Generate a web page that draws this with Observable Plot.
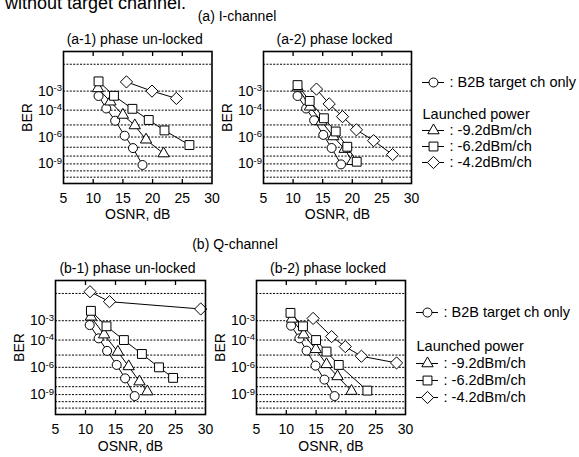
<!DOCTYPE html>
<html><head><meta charset="utf-8">
<script src="https://cdn.jsdelivr.net/npm/d3@7"></script>
<script src="https://cdn.jsdelivr.net/npm/@observablehq/plot@0.6"></script>
<style>
body{margin:0;background:#fff;font-family:"Liberation Sans",Arial,sans-serif;}
#root{position:relative;width:579px;height:457px;overflow:hidden;background:#fff;}
.box{position:absolute;}
.t{position:absolute;font-size:14px;line-height:16px;white-space:nowrap;color:#000;text-align:center;}
</style></head><body><div id="root"></div>
<script>
// ---- axis / tick definitions ----
const xTickLabels = [5, 10, 15, 20, 25, 30];
const xInnerTicks = [10, 15, 20, 25];
const yTickExps = [3, 4, 6, 9];              // labelled BER = 10^-n
const yGridExps = [2, 3, 4, 5, 6, 7, 8, 9, 10, 11];
const yDomainExp = [1.65, 12.1];

// ---- data: [OSNR (dB), -log10(BER)] ----
// (a-1) I-channel, phase un-locked
const a1_b2b = [[10.9,3.23],[12.2,3.9],[13.7,4.69],[15.3,5.88],[16.7,7.09],[18.3,9.15]];
const a1_p92 = [[10.8,2.88],[12.9,3.52],[15.0,4.3],[17.0,5.04],[18.9,6.25],[21.85,7.7]];
const a1_p62 = [[10.9,2.59],[13.5,3.22],[16.6,3.92],[19.35,4.64],[22.0,5.43],[26.2,6.77]];
const a1_p42 = [[15.6,2.61],[19.9,3.0],[24.0,3.35]];
// (a-2) I-channel, phase locked
const a2_b2b = [[10.75,3.23],[12.2,3.9],[13.55,4.66],[15.1,5.81],[16.5,7.08],[18.1,9.07]];
const a2_p92 = [[10.8,2.85],[12.85,3.8],[14.8,4.75],[16.8,5.95],[18.7,7.2],[20.0,8.65]];
const a2_p62 = [[10.75,2.74],[12.8,3.48],[15.2,4.52],[17.2,5.52],[19.15,6.95],[20.75,8.71]];
const a2_p42 = [[13.95,2.91],[16.1,3.64],[18.35,4.41],[20.7,5.38],[23.6,6.34],[26.8,7.82]];
// (b-1) Q-channel, phase un-locked
const b1_b2b = [[10.7,3.2],[12.2,3.9],[13.6,4.7],[15.2,5.79],[16.6,7.07],[18.2,9.2]];
const b1_p92 = [[10.9,2.83],[13.1,3.69],[15.4,4.77],[17.2,5.92],[19.0,7.42],[20.3,8.6]];
const b1_p62 = [[10.9,2.59],[13.5,3.26],[16.4,4.0],[19.4,4.92],[22.25,6.0],[24.6,7.02]];
const b1_p42 = [[10.75,1.95],[14.0,2.26],[29.2,2.52]];
// (b-2) Q-channel, phase locked
const b2_b2b = [[10.8,3.23],[12.2,3.9],[13.4,4.68],[14.9,5.85],[16.4,7.2],[18.1,9.2]];
const b2_p92 = [[10.95,2.92],[12.9,3.69],[14.95,4.59],[16.75,5.74],[18.6,6.87],[20.95,8.54]];
const b2_p62 = [[10.7,2.67],[12.8,3.26],[15.0,4.0],[16.75,4.75],[18.8,5.79],[23.6,8.48]];
const b2_p42 = [[14.5,2.9],[17.6,3.8],[19.9,4.41],[22.6,5.09],[28.5,5.62]];

// ---- text ----
const panelTitles = ["(a-1) phase un-locked", "(a-2) phase locked", "(b-1) phase un-locked", "(b-2) phase locked"];
const groupTitles = ["(a) I-channel", "(b) Q-channel"];
const legendLabels = [": B2B target ch only", "Launched power", ": -9.2dBm/ch", ": -6.2dBm/ch", ": -4.2dBm/ch"];

// ---- styles ----
const FONT = '"Liberation Sans", Arial, sans-serif';
const sym = {
  b2b: {symbol: "circle", r: 4.5},
  p92: {symbol: "triangle", r: 4.2},
  p62: {symbol: "square", r: 5.0},
  p42: {symbol: "diamond2", r: 5.5}
};

const root = document.getElementById("root");

function place(el, left, top) {
  const d = document.createElement("div");
  d.className = "box";
  d.style.left = left + "px";
  d.style.top = top + "px";
  d.appendChild(el);
  root.appendChild(d);
}

function superscriptTicks(svg) {
  d3.select(svg).selectAll('g[aria-label="y-axis tick label"] text').each(function () {
    const t = d3.select(this);
    const parts = t.text().split("^");
    t.text(parts[0]);
    t.append("tspan").attr("dy", "-0.45em").attr("font-size", "9.5px").text(parts[1]);
  });
}

function makePanel(title, frame, seriesList, tickPad, xLabDy) {
  const [fl, ft, fr, fb] = frame;
  const mL = 50, mR = 10, mT = 24, mB = 44;
  const W = fr - fl + mL + mR, H = fb - ft + mT + mB;
  const marks = [Plot.ruleY(yGridExps, {y: d => d, stroke: "black", strokeWidth: 1, strokeDasharray: "2,1.4"})];
  for (const [pts] of seriesList)
    marks.push(Plot.line(pts, {x: d => d[0], y: d => d[1], stroke: "black", strokeWidth: 1}));
  for (const [pts, st] of seriesList)
    marks.push(Plot.dot(pts, {x: d => d[0], y: d => d[1], symbol: st.symbol, r: st.r, fill: "white", stroke: "black", strokeWidth: 1}));
  marks.push(
    Plot.frame({stroke: "black", strokeWidth: 1.6}),
    Plot.axisX({ticks: xInnerTicks, anchor: "top", tickSize: 4, dy: 4, text: null, label: null, strokeWidth: 1.3}),
    Plot.axisX({ticks: xInnerTicks, anchor: "bottom", tickSize: 4, dy: -4, text: null, label: null, strokeWidth: 1.3}),
    Plot.axisX({ticks: xTickLabels, anchor: "bottom", tickSize: 0, tickPadding: tickPad, label: null, fontSize: 14}),
    Plot.axisY({ticks: yTickExps, anchor: "left", tickSize: 0, tickPadding: 1.5, label: null, fontSize: 14, tickFormat: d => "10^-" + d}),
    Plot.text([title], {text: d => d, frameAnchor: "top", lineAnchor: "middle", textAnchor: "middle", dy: -12, dx: -3, fontSize: 14}),
    Plot.text(["BER"], {text: d => d, frameAnchor: "left", lineAnchor: "middle", textAnchor: "middle", dx: -35.5, rotate: -90, fontSize: 14}),
    Plot.text(["OSNR, dB"], {text: d => d, frameAnchor: "bottom", lineAnchor: "middle", textAnchor: "middle", dy: xLabDy, fontSize: 14})
  );
  const chart = Plot.plot({
    width: W, height: H, marginLeft: mL, marginRight: mR, marginTop: mT, marginBottom: mB,
    style: {fontFamily: FONT, fontSize: "14px", color: "black", background: "transparent", overflow: "visible", maxWidth: "none"},
    x: {domain: [5, 30]},
    y: {type: "log", domain: yDomainExp, reverse: true},
    marks
  });
  superscriptTicks(chart);
  place(chart, fl - mL, ft - mT);
}

function makeLegend(left, top, step) {
  const rows = [
    {row: 0, st: sym.b2b, label: legendLabels[0]},
    {row: 3, st: sym.p92, label: legendLabels[2]},
    {row: 4, st: sym.p62, label: legendLabels[3]},
    {row: 5, st: sym.p42, label: legendLabels[4]}
  ];
  const header = [{row: 2, label: legendLabels[1]}];
  const mT = 10, mB = 6;
  const H = step * 5 + mT + mB;
  const marks = [Plot.ruleY(rows, {y: "row", x1: 0, x2: 1, stroke: "black", strokeWidth: 1})];
  for (const r of rows)
    marks.push(Plot.dot([r], {x: 0.5, y: "row", symbol: r.st.symbol, r: r.st.r, fill: "white", stroke: "black", strokeWidth: 1}));
  marks.push(
    Plot.text(rows, {x: 1, y: "row", text: "label", textAnchor: "start", dx: 5, fontSize: 14.5}),
    Plot.text(header, {x: 0, y: "row", text: "label", textAnchor: "start", fontSize: 14.5})
  );
  const chart = Plot.plot({
    width: 160, height: H, marginLeft: 2, marginRight: 136, marginTop: mT, marginBottom: mB,
    style: {fontFamily: FONT, fontSize: "14px", color: "black", background: "transparent", overflow: "visible", maxWidth: "none"},
    x: {domain: [0, 1], axis: null},
    y: {type: "point", domain: [0, 1, 2, 3, 4, 5], padding: 0, axis: null},
    marks
  });
  place(chart, left, top - mT);
}

function addText(txt, cx, cy, size) {
  const d = document.createElement("div");
  d.className = "t";
  d.textContent = txt;
  d.style.left = (cx - 100) + "px";
  d.style.width = "200px";
  d.style.top = (cy - 8) + "px";
  if (size) d.style.fontSize = size + "px";
  root.appendChild(d);
}

// partially visible caption at the very top (cut off in the reference too)
const cap = document.createElement("div");
cap.className = "t";
cap.style.left = "5px"; cap.style.top = "-7px"; cap.style.fontSize = "18px"; cap.style.lineHeight = "20px"; cap.style.textAlign = "left";
cap.textContent = "without target channel.";
root.appendChild(cap);

addText(groupTitles[0], 237, 16);
addText(groupTitles[1], 235, 243.5);

makePanel(panelTitles[0], [62.5, 50.7, 211, 182.7],
  [[a1_b2b, sym.b2b], [a1_p92, sym.p92], [a1_p62, sym.p62], [a1_p42, sym.p42]], 9.8, 30.8);
makePanel(panelTitles[1], [262.5, 50.7, 410.5, 182.7],
  [[a2_b2b, sym.b2b], [a2_p92, sym.p92], [a2_p62, sym.p62], [a2_p42, sym.p42]], 9.8, 30.8);
makePanel(panelTitles[2], [54.5, 280, 204.5, 414],
  [[b1_b2b, sym.b2b], [b1_p92, sym.p92], [b1_p62, sym.p62], [b1_p42, sym.p42]], 10, 32);
makePanel(panelTitles[3], [256, 280, 405, 414],
  [[b2_b2b, sym.b2b], [b2_p92, sym.p92], [b2_p62, sym.p62], [b2_p42, sym.p42]], 10, 32);

makeLegend(419.7, 80, 16.8);
makeLegend(414, 311, 17.5);
</script></body></html>
